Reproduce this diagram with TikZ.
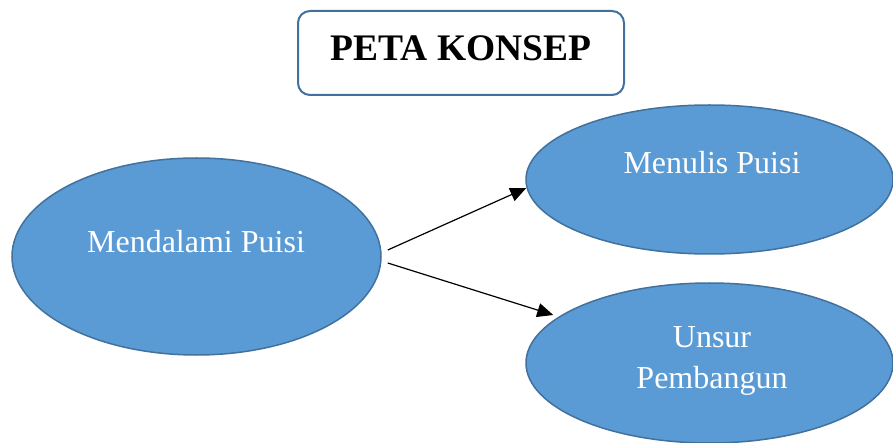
\documentclass[tikz,border=0pt]{standalone}
\usepackage{fontspec}
\setmainfont{Liberation Serif}
\usetikzlibrary{arrows.meta,shapes.geometric,calc}
\definecolor{fillblue}{HTML}{5B9BD5}
\definecolor{edgeblue}{HTML}{41719C}
\begin{document}
\begin{tikzpicture}[x=1pt,y=-1pt,
  bubble/.style={ellipse, draw=edgeblue, line width=1.5pt, fill=fillblue, inner sep=0pt},
  bubbletext/.style={text=white, font=\fontsize{32}{41}\selectfont, align=center, anchor=base, inner sep=0pt},
  link/.style={-{Triangle[length=16pt,width=14pt]}, line width=1.2pt},
  titlebox/.style={draw=edgeblue, line width=2pt, rounded corners=12pt, fill=white}]
\useasboundingbox (0,0) rectangle (893,443);
\fill[white] (0,0) rectangle (893,443);
% title
\node[titlebox, minimum width=326pt, minimum height=84pt] (title) at (461,53) {};
\node[anchor=base, inner sep=0pt, font=\fontsize{37.5}{45}\bfseries\selectfont] (titletext) at (461,61) {PETA KONSEP};
% ellipses
\node[bubble, minimum width=369pt, minimum height=197pt] (m) at (196.5,256.5) {};
\node[bubble, minimum width=367pt, minimum height=149pt] (w) at (709.5,179.5) {};
\node[bubble, minimum width=367pt, minimum height=160pt] (u) at (709.5,363) {};
% labels
\node[bubbletext] (mtext) at (196,253) {Mendalami Puisi};
\node[bubbletext] (wtext) at (712,174) {Menulis Puisi};
\node[bubbletext] (utext) at (712,388) {Unsur\\Pembangun};
% connectors
\draw[link] ($(m.east)+(6,-6.5)$) -- ($(w.west)+(1,8.5)$);
\draw[link] ($(m.east)+(6,6.5)$) -- ($(u.west)+(28,-48)$);
\end{tikzpicture}
\end{document}
